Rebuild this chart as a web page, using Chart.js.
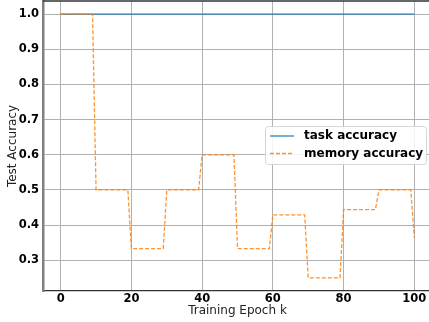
<!DOCTYPE html>
<html>
<head>
<meta charset="utf-8">
<script src="https://cdn.jsdelivr.net/npm/chart.js@4.4.1/dist/chart.umd.min.js"></script>
<style>
  html, body { margin: 0; padding: 0; background: #fff; overflow: hidden; }
  #wrap { width: 433px; height: 322px; }
</style>
</head>
<body>
<div id="wrap"><canvas id="accChart"></canvas></div>
<script>

/* DATOS */

const epochs = [0, 9, 10, 19, 20, 29, 30, 39, 40, 49, 50, 59, 60, 69, 70, 79, 80, 89, 90, 99, 100];

const taskAcc = [1.0, 1.0, 1.0, 1.0, 1.0, 1.0, 1.0, 1.0, 1.0, 1.0, 1.0,
                 1.0, 1.0, 1.0, 1.0, 1.0, 1.0, 1.0, 1.0, 1.0, 1.0];

const memoryAcc = [1.0, 1.0, 0.5, 0.5, 0.333, 0.333, 0.5, 0.5, 0.6, 0.6, 0.333,
                   0.333, 0.429, 0.429, 0.25, 0.25, 0.444, 0.444, 0.5, 0.5, 0.364];

const xTicks = [0, 20, 40, 60, 80, 100];
const yTicks = [0.3, 0.4, 0.5, 0.6, 0.7, 0.8, 0.9, 1.0];

const seriesNames = ['task accuracy', 'memory accuracy'];

/* LEYENDA Y BORDE SUPERIOR */

const legendBox = {

    id: 'legendBox',

    afterDraw(chart) {

        const ctx = chart.ctx;
        const area = chart.chartArea;

        // borde superior
        ctx.save();
        ctx.strokeStyle = '#333';
        ctx.lineWidth = 1.5;
        ctx.beginPath();
        ctx.moveTo(area.left, area.top);
        ctx.lineTo(area.right, area.top);
        ctx.stroke();

        // caja
        let x = 265, y = 126, w = 161, h = 38;
        ctx.fillStyle = 'rgba(255,255,255,0.85)';
        ctx.strokeStyle = '#d6d6d6';
        ctx.lineWidth = 1;
        ctx.beginPath();
        ctx.roundRect(x + 0.5, y + 0.5, w, h, 3);
        ctx.fill();
        ctx.stroke();

        ctx.font = 'bold 12px "DejaVu Sans"';
        ctx.textBaseline = 'middle';
        ctx.fillStyle = '#000';

        chart.data.datasets.forEach((ds, i) => {

            let rowY = y + 10 + i * 17.5;

            ctx.strokeStyle = ds.borderColor;
            ctx.lineWidth = ds.borderWidth;
            ctx.setLineDash(ds.borderDash || []);
            ctx.beginPath();
            ctx.moveTo(x + 5, rowY);
            ctx.lineTo(x + 29, rowY);
            ctx.stroke();
            ctx.setLineDash([]);

            ctx.fillText(ds.label, x + 39, rowY);

        });

        ctx.restore();
    }
};

/* GRAFICO */

new Chart(document.getElementById('accChart'), {

    type: 'line',

    data: {

        datasets: [{

            label: seriesNames[0],
            data: epochs.map((e, i) => ({ x: e, y: taskAcc[i] })),
            borderColor: 'rgba(31,119,180,0.65)',
            borderWidth: 1.8,
            pointRadius: 0,
            tension: 0,
            order: 1

        }, {

            label: seriesNames[1],
            data: epochs.map((e, i) => ({ x: e, y: memoryAcc[i] })),
            borderColor: 'rgba(255,127,14,0.85)',
            borderWidth: 1.3,
            borderDash: [4, 2],
            pointRadius: 0,
            tension: 0,
            order: 0

        }]
    },

    options: {

        responsive: true,
        maintainAspectRatio: false,
        animation: false,
        events: [],

        layout: {
            padding: { top: 1, right: 1, bottom: 0, left: 0 }
        },

        plugins: {
            legend: { display: false },
            tooltip: { enabled: false }
        },

        scales: {

            x: {
                type: 'linear',
                min: -5,
                max: 105,
                afterBuildTicks: scale => {
                    scale.ticks = xTicks.map(v => ({ value: v }));
                },
                afterFit: scale => {
                    scale.height = 31;
                    scale.paddingLeft = 0;
                    scale.paddingRight = 0;
                },
                grid: { color: '#b0b0b0', lineWidth: 1, drawTicks: false },
                border: { display: true, color: '#333', width: 1.2 },
                ticks: {
                    padding: 1,
                    color: '#000',
                    font: { family: 'DejaVu Sans', size: 11.5, weight: 'bold' }
                },
                title: {
                    display: true,
                    text: 'Training Epoch k',
                    color: '#222',
                    padding: { top: 4, bottom: 4 },
                    font: { family: 'DejaVu Sans', size: 12 }
                }
            },

            y: {
                min: 0.2125,
                max: 1.0375,
                afterBuildTicks: scale => {
                    scale.ticks = yTicks.map(v => ({ value: v }));
                },
                afterFit: scale => {
                    scale.width = 43;
                    scale.paddingTop = 0;
                    scale.paddingBottom = 0;
                },
                grid: { color: '#b0b0b0', lineWidth: 1, drawTicks: false },
                border: { display: true, color: '#808080', width: 2.5 },
                ticks: {
                    padding: 4,
                    color: '#000',
                    font: { family: 'DejaVu Sans', size: 11.5, weight: 'bold' },
                    callback: v => v.toFixed(1)
                },
                title: {
                    display: true,
                    text: 'Test Accuracy',
                    color: '#222',
                    padding: { top: 6, bottom: 6 },
                    font: { family: 'DejaVu Sans', size: 12 }
                }
            }
        }
    },

    plugins: [legendBox]

});

</script>
</body>
</html>
